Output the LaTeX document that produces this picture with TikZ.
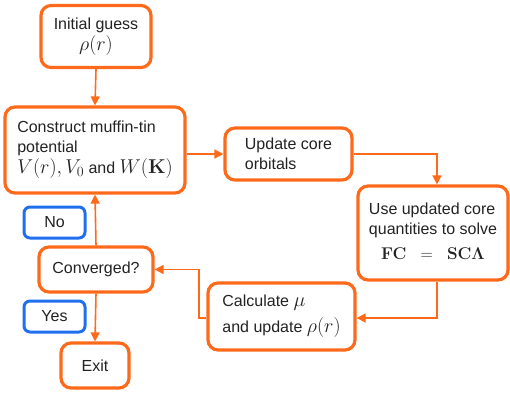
\documentclass[tikz,border=0pt]{standalone}
\usepackage{fix-cm}
\usepackage[no-math]{fontspec}
\setmainfont{Liberation Sans}
\usetikzlibrary{arrows.meta}
\definecolor{org}{HTML}{FF6A1A}
\definecolor{blu}{HTML}{1F6FEF}
\definecolor{txt}{HTML}{222222}
\newcommand{\largemath}[1]{{\fontsize{20}{20}\selectfont$#1$}}
\tikzset{
  box/.style={draw=org, line width=3.2pt, rounded corners=10pt, text=txt, inner sep=0pt,
    font=\fontsize{16}{20}\selectfont},
  lbl/.style={draw=blu, line width=3pt, rounded corners=6pt, text=txt, inner sep=0pt,
    minimum width=61pt, minimum height=31pt, font=\fontsize{16}{20}\selectfont},
  arr/.style={draw=org, line width=1.6pt, -{Triangle[length=9pt,width=9pt]}}
}
\begin{document}
\begin{tikzpicture}[x=1pt,y=-1pt]
\useasboundingbox (0,0) rectangle (510,394);
\node[box, minimum width=110pt, minimum height=62pt, align=center] (init) at (96,36.5)
  {Initial guess\\[1pt]\largemath{\rho(r)}};
\node[box, minimum width=180pt, minimum height=86pt, align=left] (cons) at (95,150)
  {Construct muffin-tin\\potential\\[1pt]\largemath{V(r), V_0}\ and \largemath{W(\mathbf{K})}};
\node[box, minimum width=127pt, minimum height=52pt, align=left] (upd) at (288.5,154)
  {Update core\\orbitals};
\node[box, minimum width=150pt, minimum height=94pt] (use) at (433,233)
  {\begin{tabular}{@{}l@{}}Use updated core\\quantities to solve\\[5pt]
   \multicolumn{1}{@{}c@{}}{\fontsize{17}{20}\selectfont$\mathbf{FC}\ \;=\ \;\mathbf{SC\Lambda}$}\end{tabular}};
\node[box, minimum width=147pt, minimum height=67pt, align=left] (calc) at (281.5,316.5)
  {Calculate \largemath{\mu}\\[6pt]and update \largemath{\rho(r)}};
\node[box, minimum width=114pt, minimum height=45pt] (conv) at (96,269.5) {Converged?};
\node[box, minimum width=68pt, minimum height=45pt] (exit) at (95,365.5) {Exit};
\node[lbl] (no) at (54.5,222.5) {No};
\node[lbl] (yes) at (54.5,316.5) {Yes};
\coordinate (c1) at (437,154);
\coordinate (c2) at (437,318);
\coordinate (c3) at (199,318);
\draw[arr] (init.south) -- (cons.north);
\draw[arr] (cons.east |- upd.west) -- (upd.west);
\draw[arr] (upd.east) -- (c1) -- (c1 |- use.north);
\draw[arr] (c1 |- use.south) -- (c2) -- (calc.east |- c2);
\draw[arr] (calc.west |- c3) -- (c3) |- (conv.east);
\draw[arr] (conv.north) -- (cons.south);
\draw[arr] (conv.south) -- (exit.north);
\end{tikzpicture}
\end{document}
